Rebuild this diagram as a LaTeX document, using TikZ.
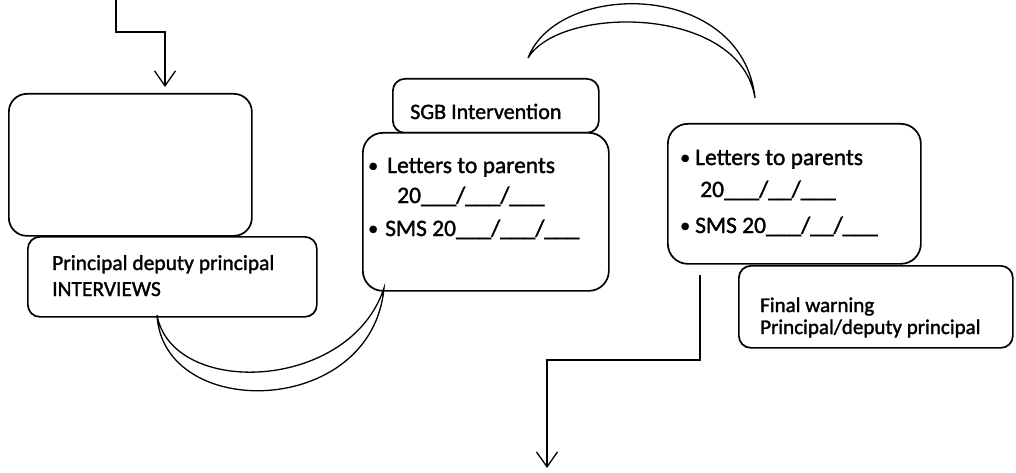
\documentclass[tikz,border=0pt]{standalone}
\usepackage{fontspec}
\setmainfont{Carlito}[FakeBold=1.5]
\usetikzlibrary{arrows.meta}
\begin{document}
\begin{tikzpicture}[x=1pt,y=-1pt,
  box/.style={draw,line width=1.7pt,rounded corners=#1,fill=white,inner sep=0pt,anchor=north west},
  txt/.style={inner sep=0pt,anchor=base west,font=\fontsize{#1}{#1}\selectfont},
  conn/.style={line width=1.3pt},
  arr/.style={conn,-{Straight Barb[length=15pt,width=21pt,line width=1.3pt]}},
  moon/.style={line width=1.3pt,fill=white}]
\useasboundingbox (0,0) rectangle (1016,473);
% boxes
\node[box=18pt,minimum width=243pt,minimum height=142pt] (b1) at (8,93) {};
\node[box=12pt,minimum width=289pt,minimum height=80pt] (b2) at (27,236) {};
\node[box=12pt,minimum width=206pt,minimum height=54pt] (sgb) at (392,78) {};
\node[box=20pt,minimum width=246pt,minimum height=158pt] (ml) at (362,132) {};
\node[box=20pt,minimum width=253pt,minimum height=140pt] (rl) at (667,123) {};
\node[box=12pt,minimum width=274pt,minimum height=82pt] (fw) at (738,265) {};
% texts
\node[txt=21.5] (t1) at (52,270) {Principal deputy principal};
\node[txt=21.5] (t2) at (52,296) {INTERVIEWS};
\node[txt=22] (t3) at (410,119) {SGB Intervention};
\node[txt=20] (m1b) at (368,172) {\textbullet};
\node[txt=23.5] (m1) at (387,173) {Letters to parents};
\node[txt=23.5] (m2) at (397,203) {20\_\_\_/\_\_\_/\_\_\_};
\node[txt=20] (m3b) at (368,235) {\textbullet};
\node[txt=23.5] (m3) at (385,236) {SMS 20\_\_\_/\_\_\_/\_\_\_};
\node[txt=20] (r1b) at (680,164) {\textbullet};
\node[txt=23.5] (r1) at (695,165) {Letters to parents};
\node[txt=23.5] (r2) at (700,197) {20\_\_\_/\_\_/\_\_\_};
\node[txt=20] (r3b) at (680,232) {\textbullet};
\node[txt=23.5] (r3) at (695,233) {SMS 20\_\_\_/\_\_/\_\_\_};
\node[txt=21] (f1) at (760,312) {Final warning};
\node[txt=21] (f2) at (760,334) {Principal/deputy principal};
% connectors
\coordinate (s1) at (116,0);
\draw[arr] (s1) -- (116,32) -| ([yshift=6pt]b1.north -| 165,0);
\coordinate (s2) at (700,275);
\coordinate (e2) at (547,468);
\draw[arr] (s2) -- (700,360) -| (e2);
% crescents
\coordinate (c1a) at (157,315);
\coordinate (c1b) at (384,288);
\draw[moon] (c1a) .. controls (172,398) and (350,392) .. (c1b)
  .. controls (372,418) and (163,422) .. (c1a);
\coordinate (c2a) at (528,58);
\coordinate (c2b) at (755,98);
\draw[moon] (c2a) .. controls (560,4.7) and (740,4.7) .. (c2b)
  .. controls (742,-20) and (558,-20) .. (c2a);
\end{tikzpicture}
\end{document}
